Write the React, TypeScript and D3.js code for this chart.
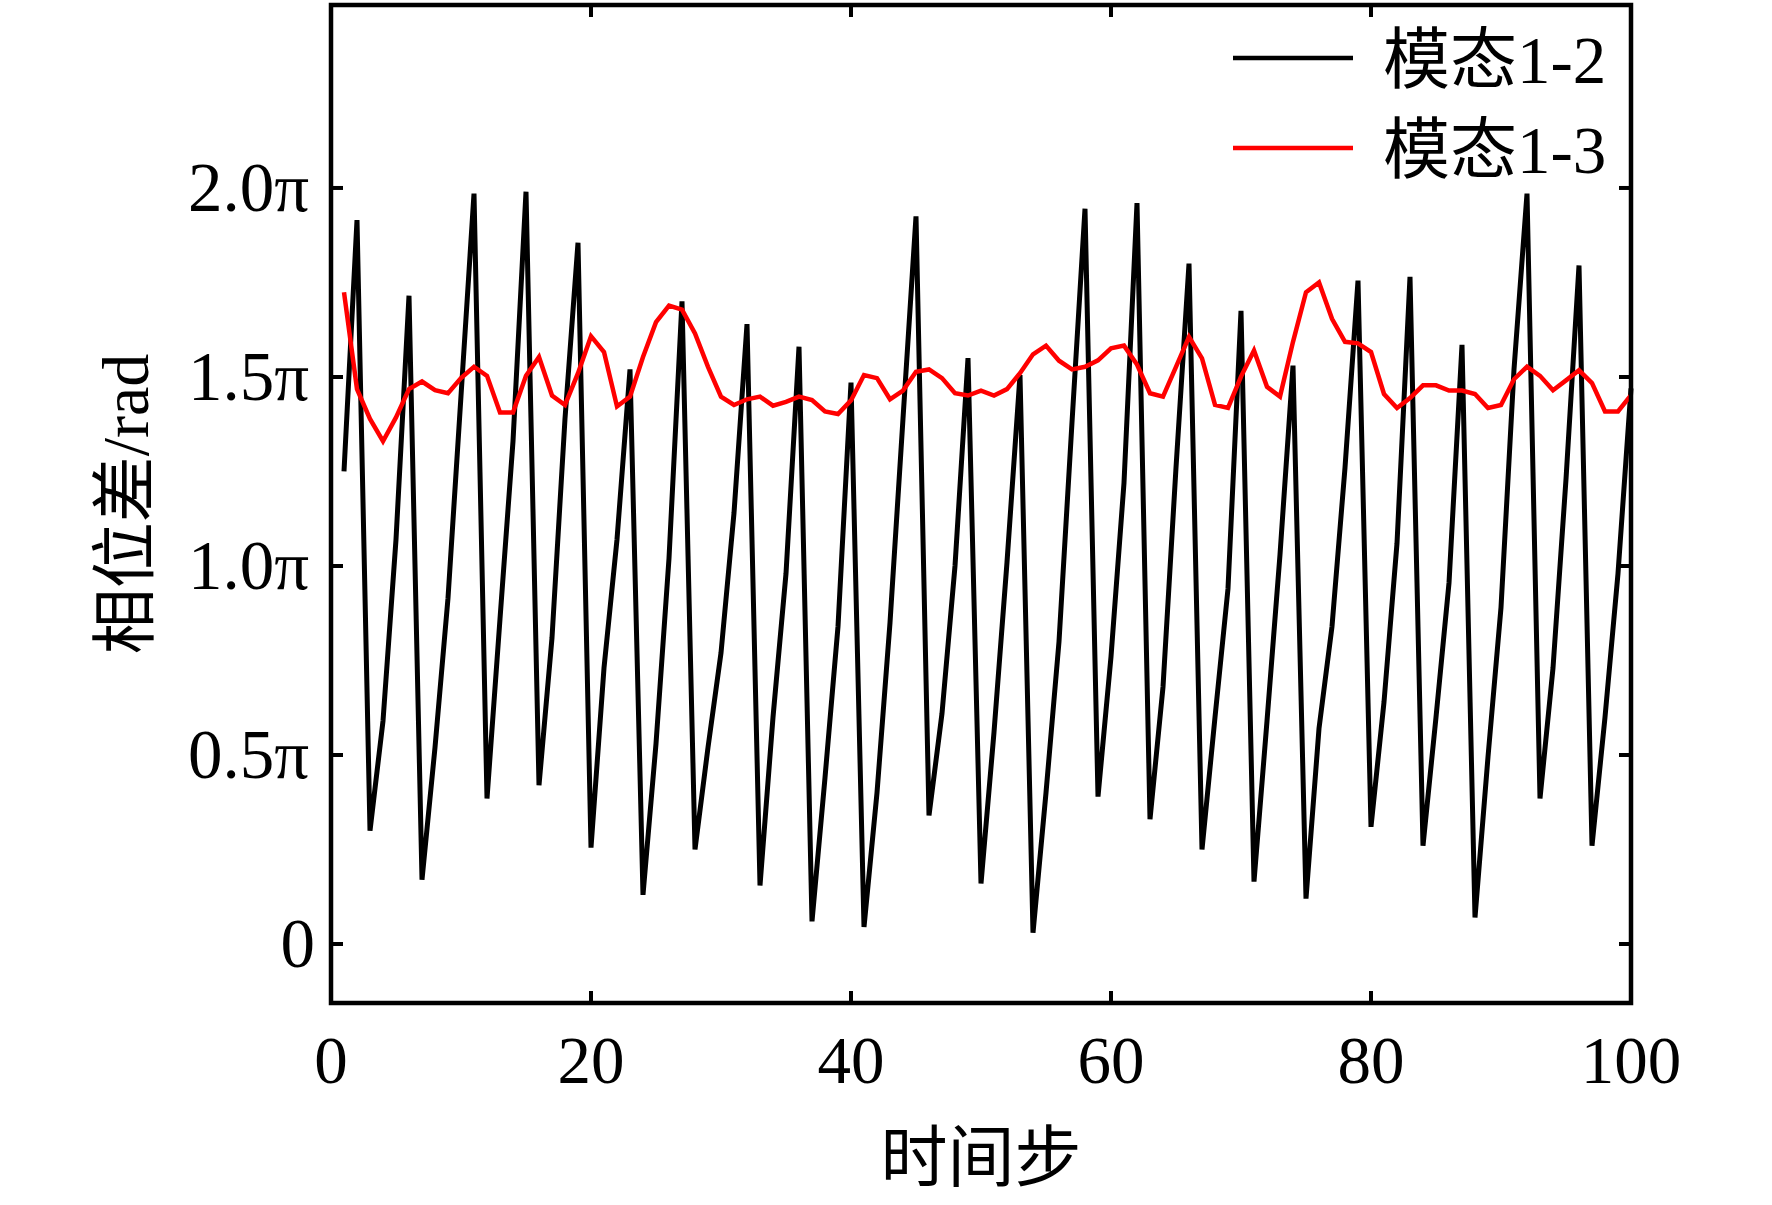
import React from "react";
import * as d3 from "d3";

// time steps 1..100
const steps: number[] = Array.from({ length: 100 }, (_, i) => i + 1);

// phase difference, in units of π
const mode12: number[] = [
  1.25, 1.915, 0.30, 0.59, 1.07, 1.715, 0.17, 0.52, 0.915, 1.45,
  1.985, 0.385, 0.86, 1.33, 1.99, 0.42, 0.81, 1.39, 1.855, 0.255,
  0.73, 1.07, 1.52, 0.13, 0.53, 1.02, 1.70, 0.25, 0.52, 0.77,
  1.14, 1.64, 0.155, 0.60, 0.98, 1.58, 0.06, 0.44, 0.84, 1.485,
  0.045, 0.40, 0.85, 1.39, 1.925, 0.34, 0.61, 1.00, 1.55, 0.16,
  0.56, 1.01, 1.505, 0.03, 0.40, 0.80, 1.38, 1.945, 0.39, 0.76,
  1.22, 1.96, 0.33, 0.68, 1.26, 1.80, 0.25, 0.60, 0.94, 1.675,
  0.165, 0.59, 1.03, 1.53, 0.12, 0.57, 0.84, 1.26, 1.755, 0.31,
  0.64, 1.06, 1.765, 0.26, 0.60, 0.955, 1.585, 0.07, 0.495, 0.89,
  1.52, 1.985, 0.385, 0.73, 1.23, 1.795, 0.26, 0.60, 0.98, 1.47,
];

const mode13: number[] = [
  1.724, 1.468, 1.389, 1.330, 1.393, 1.468, 1.488, 1.465, 1.457, 1.497,
  1.527, 1.503, 1.406, 1.406, 1.503, 1.553, 1.451, 1.426, 1.510, 1.608,
  1.566, 1.422, 1.448, 1.553, 1.645, 1.689, 1.678, 1.615, 1.527, 1.448,
  1.426, 1.441, 1.448, 1.424, 1.434, 1.448, 1.439, 1.409, 1.402, 1.438,
  1.505, 1.497, 1.441, 1.464, 1.514, 1.520, 1.497, 1.457, 1.451, 1.464,
  1.451, 1.468, 1.510, 1.560, 1.583, 1.543, 1.520, 1.527, 1.544, 1.576,
  1.583, 1.533, 1.457, 1.448, 1.527, 1.606, 1.549, 1.426, 1.418, 1.501,
  1.570, 1.474, 1.448, 1.593, 1.724, 1.750, 1.654, 1.593, 1.589, 1.566,
  1.455, 1.418, 1.444, 1.478, 1.478, 1.464, 1.464, 1.455, 1.418, 1.426,
  1.494, 1.527, 1.503, 1.465, 1.491, 1.518, 1.484, 1.409, 1.409, 1.452,
];

const seriesNames: string[] = ["模态1-2", "模态1-3"];
const seriesColors: string[] = ["#000000", "#ff0000"];

const xTicks: number[] = [0, 20, 40, 60, 80, 100];
const yTicks: number[] = [0, 0.5, 1.0, 1.5, 2.0];
const yTickLabels: string[] = ["0", "0.5π", "1.0π", "1.5π", "2.0π"];

const xTitle = "时间步";
const yTitle = "相位差/rad";

const W = 1772;
const H = 1205;
const left = 331;
const right = 1631;
const top = 5;
const bottom = 1003;

const FONT = "'Liberation Serif', 'Times New Roman', 'Noto Sans CJK SC', serif";

export default function App() {
  const x = d3.scaleLinear().domain([0, 100]).range([left, right]);
  const y = d3.scaleLinear().domain([-0.156, 2.484]).range([bottom, top]);

  const line = d3
    .line<number>()
    .x((_, i) => x(steps[i]))
    .y((d) => y(d));

  const series = [mode12, mode13];
  const tickLen = 12;

  return (
    <svg
      width={W}
      height={H}
      style={{ position: "absolute", left: 0, top: 0, display: "block", background: "#fff" }}
      fontFamily={FONT}
    >
      <rect x={0} y={0} width={W} height={H} fill="#fff" />

      {/* data lines */}
      {series.map((s, k) => (
        <path
          key={k}
          d={line(s) || ""}
          fill="none"
          stroke={seriesColors[k]}
          strokeWidth={k === 0 ? 5 : 4.5}
          strokeLinejoin="miter"
          strokeMiterlimit={10}
        />
      ))}

      {/* frame */}
      <rect
        x={left}
        y={top}
        width={right - left}
        height={bottom - top}
        fill="none"
        stroke="#000"
        strokeWidth={4.5}
      />

      {/* x ticks */}
      {xTicks.map((t) => (
        <g key={"x" + t}>
          <line x1={x(t)} x2={x(t)} y1={bottom} y2={bottom - tickLen} stroke="#000" strokeWidth={4} />
          <line x1={x(t)} x2={x(t)} y1={top} y2={top + tickLen} stroke="#000" strokeWidth={4} />
          <text x={x(t)} y={1083} fontSize={67} textAnchor="middle" fill="#000">
            {t}
          </text>
        </g>
      ))}

      {/* y ticks */}
      {yTicks.map((t, i) => (
        <g key={"y" + t}>
          <line x1={left} x2={left + tickLen} y1={y(t)} y2={y(t)} stroke="#000" strokeWidth={4} />
          <line x1={right} x2={right - tickLen} y1={y(t)} y2={y(t)} stroke="#000" strokeWidth={4} />
          <text
            x={t === 0 ? left - 16 : left - 22}
            y={y(t) + 23}
            fontSize={69}
            textAnchor="end"
            fill="#000"
          >
            {yTickLabels[i]}
          </text>
        </g>
      ))}

      {/* axis titles */}
      <text x={(left + right) / 2} y={1181} fontSize={67} textAnchor="middle" fill="#000">
        {xTitle}
      </text>
      <text
        transform={`translate(148, ${(top + bottom) / 2}) rotate(-90)`}
        fontSize={66}
        textAnchor="middle"
        fill="#000"
      >
        {yTitle}
      </text>

      {/* legend */}
      {seriesNames.map((n, k) => {
        const ly = k === 0 ? 58 : 148;
        return (
          <g key={"lg" + k}>
            <line x1={1233} x2={1353} y1={ly} y2={ly} stroke={seriesColors[k]} strokeWidth={4.5} />
            <text x={1383} y={ly + 25} fontSize={67} fill="#000">
              {n}
            </text>
          </g>
        );
      })}
    </svg>
  );
}
